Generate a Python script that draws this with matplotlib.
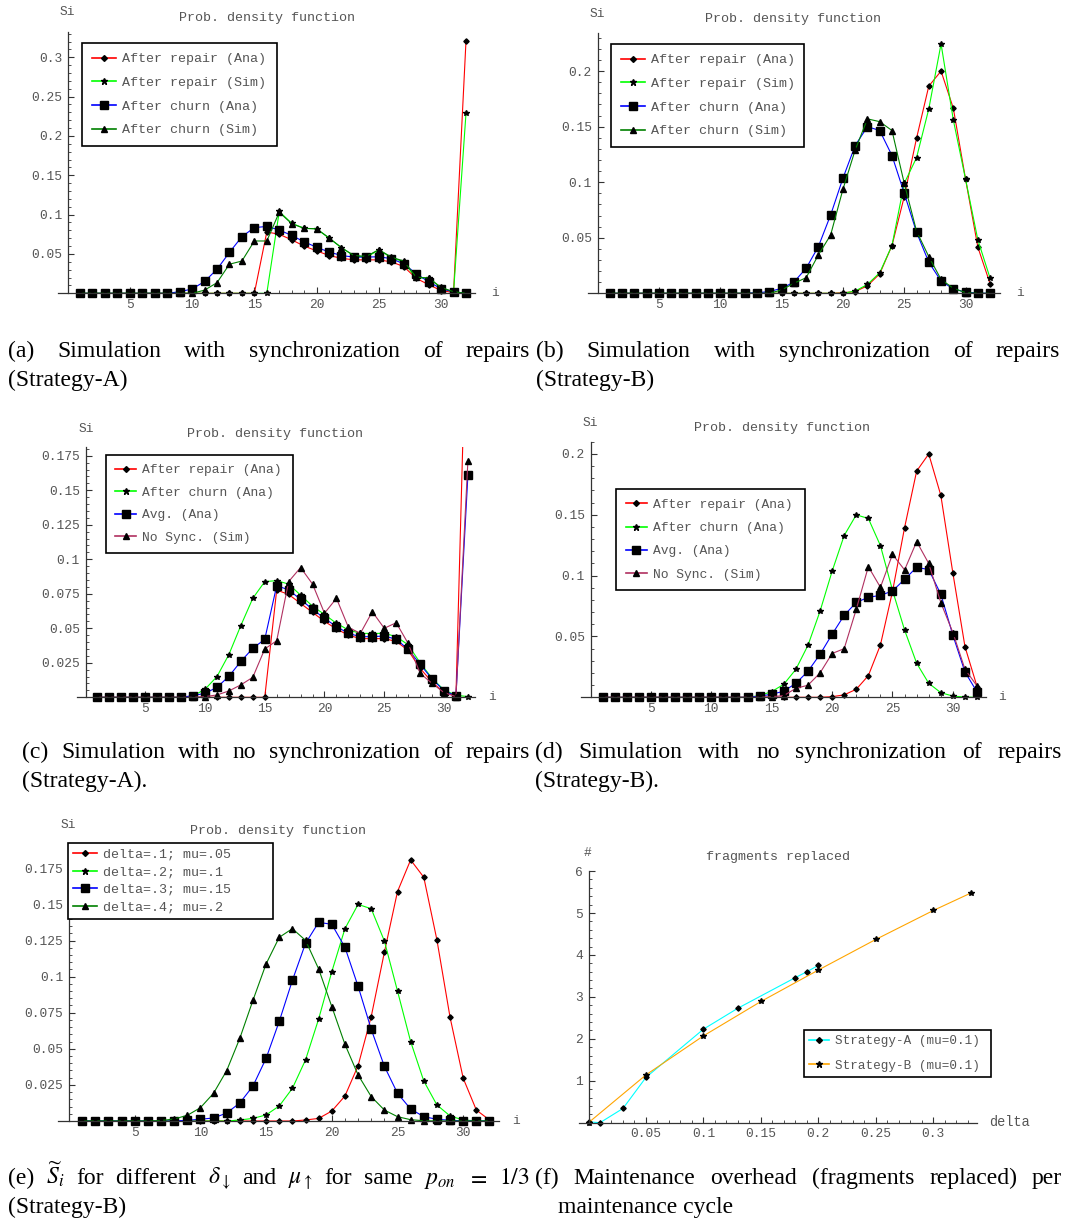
import numpy as np
import matplotlib
matplotlib.use("Agg")
import matplotlib.pyplot as plt
from matplotlib.lines import Line2D

plt.rcParams['font.family'] = ['Liberation Mono', 'DejaVu Sans Mono']
plt.rcParams['mathtext.fontset'] = 'stix'

W, H = 1065, 1218
GREY = '#555555'
AXC = '#333333'
RED, GREEN, BLUE, DKGREEN = '#ff0000', '#00ff00', '#0000ff', '#008000'
MAROON, CYAN, ORANGE = '#b03060', '#00ffff', '#ffa500'

states = np.arange(1, 33)

# (a) synchronised repairs, strategy A
a_repair_ana = [0, 0, 0, 0, 0, 0, 0, 0, 0, 0, 0, 0, 0, 0, 0, 0.078,
                0.075, 0.068, 0.060, 0.054, 0.048, 0.0445, 0.0425, 0.0425,
                0.0425, 0.040, 0.034, 0.019, 0.011, 0.0035, 0.001, 0.321]
a_repair_sim = [0, 0, 0, 0, 0, 0, 0, 0, 0, 0, 0, 0, 0, 0, 0, 0,
                0.104, 0.089, 0.0826, 0.082, 0.070, 0.058, 0.0475, 0.046,
                0.055, 0.0455, 0.040, 0.019, 0.020, 0.0065, 0.0017, 0.229]
a_churn_ana = [0, 0, 0, 0, 0, 0, 0, 0, 0.002, 0.0055, 0.015, 0.0305, 0.052,
               0.072, 0.0835, 0.085, 0.0805, 0.0735, 0.0655, 0.0585, 0.0525,
               0.048, 0.046, 0.046, 0.0465, 0.044, 0.0375, 0.025, 0.0145,
               0.006, 0.0017, 0.0003]
a_churn_sim = [0, 0, 0, 0, 0, 0, 0, 0, 0, 0, 0.004, 0.0135, 0.037, 0.041,
               0.0665, 0.0665, 0.103, 0.0885, 0.0825, 0.082, 0.0705, 0.058,
               0.048, 0.047, 0.0555, 0.046, 0.041, 0.0205, 0.0195, 0.0075,
               0.002, 0.0]

# (b) synchronised repairs, strategy B
b_repair_ana = [0, 0, 0, 0, 0, 0, 0, 0, 0, 0, 0, 0, 0, 0, 0, 0, 0, 0, 0,
                0.0005, 0.0015, 0.0068, 0.0175, 0.043, 0.087, 0.1395, 0.1865,
                0.200, 0.1665, 0.1025, 0.0415, 0.0085]
b_repair_sim = [0, 0, 0, 0, 0, 0, 0, 0, 0, 0, 0, 0, 0, 0, 0, 0, 0, 0, 0, 0,
                0.002, 0.008, 0.0185, 0.043, 0.099, 0.122, 0.166, 0.2245,
                0.156, 0.1025, 0.048, 0.0135]
b_churn_ana = [0, 0, 0, 0, 0, 0, 0, 0, 0, 0, 0, 0, 0.0005, 0.0015, 0.0045,
               0.010, 0.0225, 0.042, 0.0705, 0.1035, 0.133, 0.150, 0.1465,
               0.124, 0.090, 0.055, 0.028, 0.011, 0.004, 0.001, 0.0002, 0.0]
b_churn_sim = [0, 0, 0, 0, 0, 0, 0, 0, 0, 0, 0, 0, 0, 0, 0.003, 0.009, 0.014,
               0.0345, 0.0525, 0.0935, 0.129, 0.157, 0.1545, 0.1465, 0.099,
               0.056, 0.033, 0.0125, 0.0045, 0.0006, 0.0, 0.0]

# (c) no synchronisation, strategy A
c_repair_ana = [0, 0, 0, 0, 0, 0, 0, 0, 0, 0, 0, 0, 0, 0, 0, 0.0777,
                0.0745, 0.068, 0.0615, 0.055, 0.0495, 0.045, 0.0425, 0.0425,
                0.0425, 0.0405, 0.034, 0.021, 0.011, 0.0035, 0.001, 0.321]
c_churn_ana = [0, 0, 0, 0, 0, 0, 0, 0, 0.001, 0.0058, 0.015, 0.031, 0.052,
               0.0717, 0.0838, 0.0845, 0.082, 0.074, 0.066, 0.060, 0.0536,
               0.0488, 0.0463, 0.0463, 0.0463, 0.044, 0.038, 0.025, 0.0138,
               0.0053, 0.0015, 0.0005]
c_avg_ana = [0, 0, 0, 0, 0, 0, 0, 0, 0.0012, 0.0029, 0.0072, 0.0152, 0.026,
             0.0355, 0.042, 0.0809, 0.0778, 0.0709, 0.0637, 0.0572, 0.0512,
             0.0463, 0.0439, 0.0439, 0.0444, 0.042, 0.0348, 0.0239, 0.0133,
             0.0048, 0.001, 0.1608]
c_nosync_sim = [0, 0, 0, 0, 0, 0, 0, 0, 0, 0.0005, 0.0017, 0.0046, 0.009,
                0.0145, 0.035, 0.041, 0.0838, 0.094, 0.082, 0.0609, 0.0717,
                0.0507, 0.0463, 0.062, 0.050, 0.054, 0.039, 0.0174, 0.0101,
                0.0034, 0.0005, 0.171]

# (d) no synchronisation, strategy B
d_repair_ana = [0, 0, 0, 0, 0, 0, 0, 0, 0, 0, 0, 0, 0, 0, 0, 0, 0, 0, 0,
                0.0005, 0.002, 0.0066, 0.0178, 0.043, 0.087, 0.1395, 0.186,
                0.200, 0.166, 0.102, 0.0416, 0.0088]
d_churn_ana = [0, 0, 0, 0, 0, 0, 0, 0, 0, 0, 0, 0, 0, 0.0014, 0.0047, 0.0107,
               0.023, 0.0427, 0.0707, 0.1036, 0.133, 0.150, 0.147, 0.1247,
               0.088, 0.0553, 0.028, 0.0115, 0.0038, 0.001, 0.0002, 0.0]
d_avg_ana = [0, 0, 0, 0, 0, 0, 0, 0, 0, 0, 0, 0, 0, 0.001, 0.0025, 0.005,
             0.0115, 0.0214, 0.0353, 0.0518, 0.0674, 0.078, 0.0822, 0.0838,
             0.0874, 0.097, 0.1068, 0.105, 0.0847, 0.051, 0.0208, 0.0044]
d_nosync_sim = [0, 0, 0, 0, 0, 0, 0, 0, 0, 0, 0, 0, 0, 0, 0.0005, 0.0014,
                0.0074, 0.0099, 0.020, 0.036, 0.040, 0.0723, 0.1074, 0.0904,
                0.1175, 0.1047, 0.128, 0.110, 0.0778, 0.0532, 0.023, 0.0093]

# (e) strategy B, different delta / mu
e_d1 = [0, 0, 0, 0, 0, 0, 0, 0, 0, 0, 0, 0, 0, 0, 0, 0, 0, 0.0007, 0.0018,
        0.0069, 0.0173, 0.0383, 0.0723, 0.1168, 0.1589, 0.1808, 0.1688,
        0.1254, 0.0718, 0.0296, 0.0076, 0.0007]
e_d2 = [0, 0, 0, 0, 0, 0, 0, 0, 0, 0, 0, 0, 0.0007, 0.0018, 0.0042, 0.0104,
        0.0226, 0.0423, 0.0707, 0.1034, 0.1332, 0.150, 0.147, 0.1247, 0.090,
        0.055, 0.0277, 0.0111, 0.0035, 0.0007, 0.0001, 0.0]
e_d3 = [0, 0, 0, 0, 0, 0, 0, 0, 0.0005, 0.0012, 0.0021, 0.0055, 0.0125,
        0.0242, 0.0434, 0.069, 0.0974, 0.123, 0.1376, 0.1362, 0.1203, 0.0933,
        0.0635, 0.0379, 0.0192, 0.0083, 0.003, 0.0012, 0.0005, 0.0001, 0.0, 0.0]
e_d4 = [0, 0, 0, 0, 0, 0, 0.0003, 0.0014, 0.0039, 0.0092, 0.0192, 0.0349,
        0.0573, 0.0836, 0.1088, 0.1272, 0.1332, 0.1251, 0.1053, 0.0792,
        0.0531, 0.0319, 0.0169, 0.0076, 0.003, 0.0009, 0.0002, 0.0, 0.0, 0.0,
        0.0, 0.0]

# (f) fragments replaced per cycle
fa_delta = [0, 0.01, 0.03, 0.05, 0.1, 0.13, 0.18, 0.19, 0.2]
fa_frag = [0.02, 0.0, 0.34, 1.08, 2.23, 2.73, 3.46, 3.6, 3.75]
fb_delta = [0, 0.05, 0.1, 0.15, 0.2, 0.25, 0.3, 0.333]
fb_frag = [0.0, 1.14, 2.07, 2.89, 3.64, 4.37, 5.06, 5.48]

i_ticks = [5, 10, 15, 20, 25, 30]
y05_ticks = [0.05, 0.1, 0.15, 0.2, 0.25, 0.3]
y05_labels = ['0.05', '0.1', '0.15', '0.2', '0.25', '0.3']
y025_ticks = [0.025, 0.05, 0.075, 0.1, 0.125, 0.15, 0.175]
y025_labels = ['0.025', '0.05', '0.075', '0.1', '0.125', '0.15', '0.175']
f_xticks = [0.05, 0.1, 0.15, 0.2, 0.25, 0.3]
f_xlabels = ['0.05', '0.1', '0.15', '0.2', '0.25', '0.3']
f_yticks = [1, 2, 3, 4, 5, 6]

fig = plt.figure(figsize=(W / 100, H / 100), dpi=100)

MARK = {'D': 2.7, '*': 4.3, 's': 5.4, '^': 3.7}


def panel(x0, sx, y0, sy, xlim, ytop, xt, xl, xminor, yt, yl, yminor):
    ybot = -7.0 / sy
    left = x0 + xlim[0] * sx
    width = (xlim[1] - xlim[0]) * sx
    top = y0 - ytop * sy
    height = (ytop - ybot) * sy
    ax = fig.add_axes([left / W, 1 - (top + height) / H, width / W, height / H])
    ax.set_xlim(xlim)
    ax.set_ylim(ybot, ytop)
    ax.patch.set_visible(False)
    for s in ('top', 'right'):
        ax.spines[s].set_visible(False)
    for s in ('left', 'bottom'):
        ax.spines[s].set_position(('data', 0))
        ax.spines[s].set_color(AXC)
        ax.spines[s].set_linewidth(0.9)
    ax.spines['left'].set_bounds(0, ytop)
    ax.set_xticks(xt, xl)
    ax.set_yticks(yt, yl)
    ax.set_xticks(np.arange(xminor, xlim[1], xminor), minor=True)
    ax.set_yticks(np.arange(yminor, ytop + 1e-9, yminor), minor=True)
    ax.tick_params(which='both', direction='in', color=AXC, labelcolor=GREY,
                   labelsize=9.3)
    ax.tick_params(which='major', length=4, width=0.8, pad=4)
    ax.tick_params(which='minor', length=2, width=0.6)
    return ax


def series(ax, x, y, color, marker):
    ax.plot(x, y, color=color, lw=0.8, marker=marker, ms=MARK[marker],
            mfc='black', mec='black')
    return Line2D([], [], color=color, lw=1.2, marker=marker,
                  ms=MARK[marker] * 1.1, mfc='black', mec='black')


def legend(ax, handles, labels, box, pad, spacing, size=9.6, hlen=1.8):
    x0, y0, x1, y1 = box
    leg = ax.legend(handles, labels, loc='upper left', mode='expand',
                    bbox_to_anchor=(x0 / W, 1 - y1 / H, (x1 - x0) / W, (y1 - y0) / H),
                    bbox_transform=fig.transFigure, borderaxespad=0,
                    borderpad=pad, labelspacing=spacing, handlelength=hlen,
                    handletextpad=0.45, fancybox=False, framealpha=1,
                    edgecolor='black', fontsize=size, labelcolor=GREY)
    leg.get_frame().set_linewidth(1.2)


def label(x, y, s, size=9.3):
    fig.text(x / W, 1 - y / H, s, ha='center', va='center', color=GREY,
             fontsize=size)


# ---- (a)
ax = panel(67.6, 12.45, 293.3, 786.7, (-0.77, 32.7), 0.332, i_ticks, i_ticks,
           1, y05_ticks, y05_labels, 0.01)
h = [series(ax, states, a_repair_ana, RED, 'D'),
     series(ax, states, a_repair_sim, GREEN, '*'),
     series(ax, states, a_churn_ana, BLUE, 's'),
     series(ax, states, a_churn_sim, DKGREEN, '^')]
legend(ax, h, ['After repair (Ana)', 'After repair (Sim)', 'After churn (Ana)',
               'After churn (Sim)'], (82, 43, 277, 157), 0.75, 0.85)
label(267, 18, 'Prob. density function', 9.6)
label(67, 12, 'Si')
label(495, 293, 'i')

# ---- (b)
ax = panel(597.5, 12.27, 293.3, 1111, (-0.8, 32.8), 0.234, i_ticks, i_ticks,
           1, y05_ticks[:4], y05_labels[:4], 0.01)
h = [series(ax, states, b_repair_ana, RED, 'D'),
     series(ax, states, b_repair_sim, GREEN, '*'),
     series(ax, states, b_churn_ana, BLUE, 's'),
     series(ax, states, b_churn_sim, DKGREEN, '^')]
legend(ax, h, ['After repair (Ana)', 'After repair (Sim)', 'After churn (Ana)',
               'After churn (Sim)'], (611, 44, 804, 158), 0.75, 0.85)
label(793, 19, 'Prob. density function', 9.6)
label(597, 14, 'Si')
label(1020, 293, 'i')

# ---- (c)
ax = panel(85.5, 11.95, 697.3, 1380.6, (-0.71, 32.6), 0.181, i_ticks, i_ticks,
           1, y025_ticks, y025_labels, 0.005)
h = [series(ax, states, c_repair_ana, RED, 'D'),
     series(ax, states, c_churn_ana, GREEN, '*'),
     series(ax, states, c_avg_ana, BLUE, 's'),
     series(ax, states, c_nosync_sim, MAROON, '^')]
legend(ax, h, ['After repair (Ana)', 'After churn (Ana)', 'Avg. (Ana)',
               'No Sync. (Sim)'], (106, 455, 293, 565), 0.7, 0.8, 9.4, 1.6)
label(275, 434, 'Prob. density function', 9.6)
label(86, 429, 'Si')
label(492, 697, 'i')

# ---- (d)
ax = panel(590.5, 12.08, 697.3, 1216.5, (-0.81, 32.7), 0.21, i_ticks, i_ticks,
           1, y05_ticks[:4], y05_labels[:4], 0.01)
h = [series(ax, states, d_repair_ana, RED, 'D'),
     series(ax, states, d_churn_ana, GREEN, '*'),
     series(ax, states, d_avg_ana, BLUE, 's'),
     series(ax, states, d_nosync_sim, MAROON, '^')]
legend(ax, h, ['After repair (Ana)', 'After churn (Ana)', 'Avg. (Ana)',
               'No Sync. (Sim)'], (616, 489, 805, 601), 0.75, 0.85, 9.4, 1.6)
label(782, 428, 'Prob. density function', 9.6)
label(590, 423, 'Si')
label(1002, 697, 'i')

# ---- (e)
ax = panel(69, 13.14, 1121, 1444, (-0.84, 32.7), 0.1925, i_ticks, i_ticks,
           1, y025_ticks, y025_labels, 0.005)
h = [series(ax, states, e_d1, RED, 'D'),
     series(ax, states, e_d2, GREEN, '*'),
     series(ax, states, e_d3, BLUE, 's'),
     series(ax, states, e_d4, DKGREEN, '^')]
legend(ax, h, ['delta=.1; mu=.05', 'delta=.2; mu=.1', 'delta=.3; mu=.15',
               'delta=.4; mu=.2'], (68, 843, 273, 932), 0.4, 0.4)
label(278, 831, 'Prob. density function', 9.6)
label(68, 825, 'Si')
label(516, 1121, 'i')

# ---- (f)
ax = panel(588.5, 1149.3, 1122.7, 41.94, (-0.008, 0.3378), 6.0, f_xticks,
           f_xlabels, 0.01, f_yticks, f_yticks, 0.2)
h = [series(ax, fa_delta, fa_frag, CYAN, 'D'),
     series(ax, fb_delta, fb_frag, ORANGE, '*')]
legend(ax, h, ['Strategy-A (mu=0.1)', 'Strategy-B (mu=0.1)'],
       (804, 1030, 991, 1088), 0.4, 1.0, 9.1, 1.6)
label(778, 857, 'fragments replaced', 9.6)
label(588, 853, '#')
label(1009, 1122, 'delta', 9.8)

# ---- captions
CAP = 17
renderer = fig.canvas.get_renderer()


def caption(words, x_left, x_right, y):
    texts = [fig.text(x_left / W, 1 - y / H, w, family='Liberation Serif',
                      fontsize=CAP, va='baseline', ha='left', color='black')
             for w in words]
    if x_right is None:
        return
    widths = [t.get_window_extent(renderer).width for t in texts]
    gap = (x_right - x_left - sum(widths)) / (len(words) - 1)
    x = x_left
    for t, w in zip(texts, widths):
        t.set_x(x / W)
        x += w + gap


caption('(a) Simulation with synchronization of repairs'.split(), 8, 530, 357)
caption(['(Strategy-A)'], 8, None, 386)
caption('(b) Simulation with synchronization of repairs'.split(), 536, 1060, 357)
caption(['(Strategy-B)'], 536, None, 386)
caption('(c) Simulation with no synchronization of repairs'.split(), 22, 530, 758)
caption(['(Strategy-A).'], 22, None, 787)
caption('(d) Simulation with no synchronization of repairs'.split(), 535, 1062, 758)
caption(['(Strategy-B).'], 535, None, 787)
caption(['(e)', r'$\widetilde{S}_i$', 'for', 'different', r'$\delta_{\downarrow}$',
         'and', r'$\mu_{\uparrow}$', 'for', 'same', r'$p_{on}$', r'$=$', r'$1/3$'],
        8, 530, 1184)
caption(['(Strategy-B)'], 8, None, 1213)
caption('(f) Maintenance overhead (fragments replaced) per'.split(), 535, 1062, 1184)
caption(['maintenance cycle'], 558, None, 1213)

fig.savefig('out.png', dpi=100)
